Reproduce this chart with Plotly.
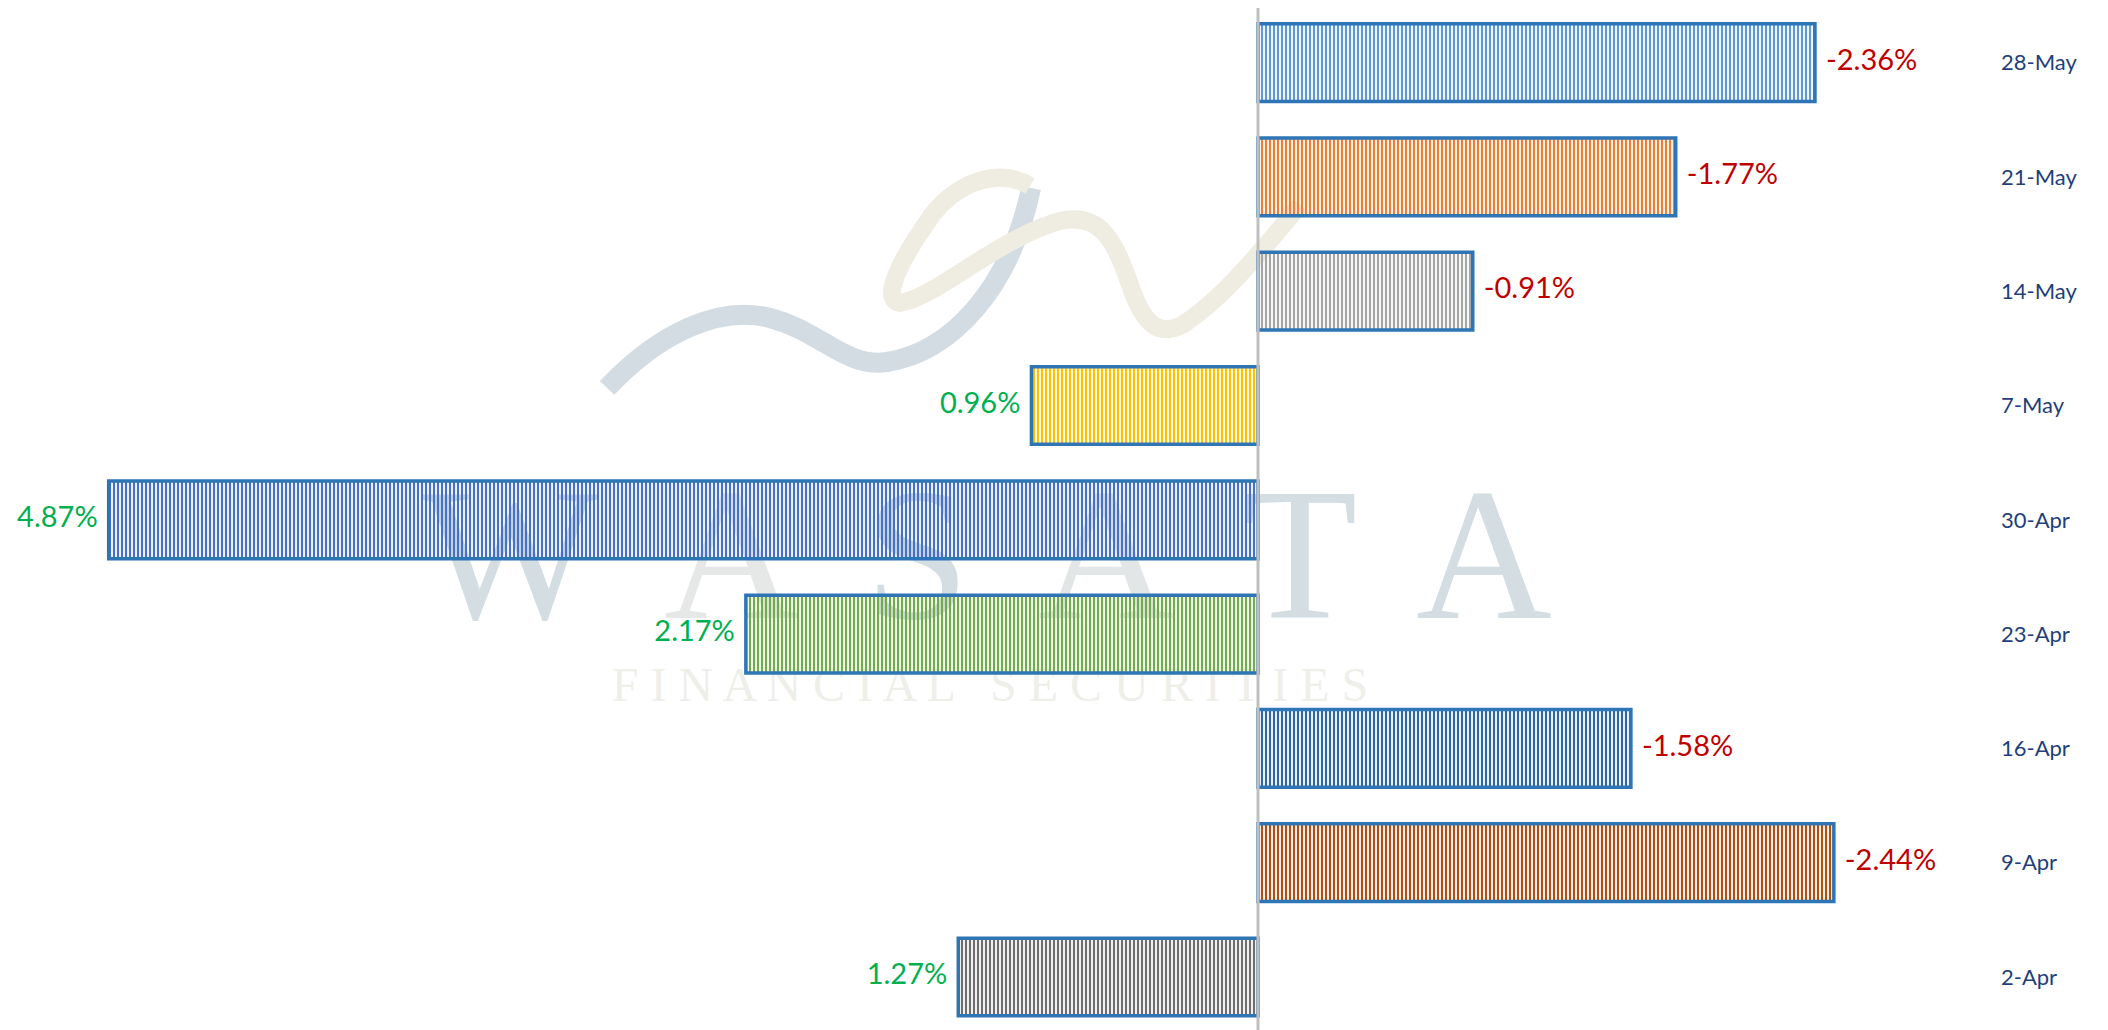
import plotly.graph_objects as go

# ---------------- data ----------------
dates = ["2-Apr", "9-Apr", "16-Apr", "23-Apr", "30-Apr", "7-May", "14-May", "21-May", "28-May"]
changes = [1.27, -2.44, -1.58, 2.17, 4.87, 0.96, -0.91, -1.77, -2.36]

stripe_fg = ["#6E6E6E", "#B0500F", "#2A68A3", "#70AD47", "#4472C4", "#FFC000", "#A5A5A5", "#ED7D31", "#5B9BD5"]
stripe_bg = ["#D0D0D0", "#F2BE98", "#A9C8E6", "#D3E8C4", "#C3D2EE", "#FFEAA6", "#E3E3E3", "#FAD3B8", "#C9DEF2"]

labels = [f"{v:.2f}%" for v in changes]
label_colors = ["#00B050" if v > 0 else "#C00000" for v in changes]
label_pos = ["middle left" if v > 0 else "middle right" for v in changes]

# page offset of the plot div (default body margin)
OFF = 8
W, H = 2100, 1022
ML, MR, MT, MB = 0, 148, 0, 0
PW, PH = W - ML - MR, H - MT - MB
ZERO_PX, PX_PER_UNIT = 1258 - OFF, 236.0


def px(x, y):
    """page pixel -> paper coordinates (for decorative watermark only)"""
    fx, fy = x - OFF, y - OFF
    return (fx - ML) / PW, 1 - (fy - MT) / PH


fig = go.Figure()

fig.add_trace(go.Bar(
    y=dates,
    x=changes,
    orientation="h",
    width=0.68,
    marker=dict(
        color=stripe_fg,
        line=dict(color="#2E75B6", width=3.5),
        pattern=dict(shape="|", fgcolor=stripe_fg, bgcolor=stripe_bg, size=4, solidity=0.55, fillmode="replace"),
    ),
    hoverinfo="skip",
))

fig.add_trace(go.Scatter(
    y=dates,
    x=changes,
    mode="markers+text",
    marker=dict(size=16, opacity=0, color="white"),
    text=labels,
    textposition=label_pos,
    textfont=dict(family="Lato, Carlito, sans-serif", size=29, color=label_colors),
    cliponaxis=False,
    hoverinfo="skip",
))

# ---------------- watermark (decorative) ----------------
shapes = []


def path_from(points):
    p = [px(*pt) for pt in points]
    d = f"M {p[0][0]:.4f},{p[0][1]:.4f}"
    for i in range(1, len(p) - 2, 3):
        d += f" C {p[i][0]:.4f},{p[i][1]:.4f} {p[i+1][0]:.4f},{p[i+1][1]:.4f} {p[i+2][0]:.4f},{p[i+2][1]:.4f}"
    return d


blue_ribbon = [(607, 388), (660, 332), (720, 305), (770, 318),
               (820, 331), (845, 368), (887, 362),
               (950, 352), (1010, 290), (1031, 188)]
beige_ribbon = [(1030, 186), (1000, 168), (960, 180), (932, 215),
                (900, 260), (880, 300), (900, 303),
                (935, 298), (995, 240), (1060, 221),
                (1100, 212), (1115, 240), (1130, 285),
                (1145, 330), (1162, 335), (1182, 325),
                (1222, 300), (1262, 250), (1300, 205)]
shapes.append(dict(type="path", xref="paper", yref="paper", layer="below",
                   path=path_from(blue_ribbon), line=dict(color="#D2DCE2", width=20)))
shapes.append(dict(type="path", xref="paper", yref="paper", layer="below",
                   path=path_from(beige_ribbon), line=dict(color="#EFEDE2", width=18)))

letters = [("W", 510, "#D3DDE2"), ("A", 732, "#E6E8E8"), ("S", 917, "#D3DDE2"),
           ("A", 1106, "#E3E6E7"), ("T", 1300, "#D3DDE2"), ("A", 1484, "#D3DDE2")]
for ch, cx, col in letters:
    x0, y0 = px(cx - 90, 534 - 70)
    x1, y1 = px(cx + 90, 534 + 70)
    shapes.append(dict(type="rect", xref="paper", yref="paper", layer="below",
                       x0=x0, x1=x1, y0=y1, y1=y0, line=dict(width=0), fillcolor="rgba(0,0,0,0)",
                       label=dict(text=ch, font=dict(family="Liberation Serif, serif", size=188, color=col),
                                  textposition="middle center")))
x0, y0 = px(990 - 400, 679 - 20)
x1, y1 = px(990 + 400, 679 + 20)
shapes.append(dict(type="rect", xref="paper", yref="paper", layer="below",
                   x0=x0, x1=x1, y0=y1, y1=y0, line=dict(width=0), fillcolor="rgba(0,0,0,0)",
                   label=dict(text="F I N A N C I A L   S E C U R I T I E S",
                              font=dict(family="Liberation Serif, serif", size=48, color="#EFEFEA"),
                              textposition="middle center")))

# zero line
shapes.append(dict(type="line", xref="x", yref="paper", x0=0, x1=0, y0=0, y1=px(0, 6)[1],
                   line=dict(color="#BFBFBF", width=3), layer="above"))

xmax = (ZERO_PX - ML) / PX_PER_UNIT
xmin = -(ML + PW - ZERO_PX) / PX_PER_UNIT
c0 = 977.0 - OFF
step = 114.3
ytop = (c0 - MT) / step
ybot = -(MT + PH - c0) / step

fig.update_layout(
    width=W, height=H,
    margin=dict(l=ML, r=MR, t=MT, b=MB),
    paper_bgcolor="white", plot_bgcolor="white",
    showlegend=False,
    shapes=shapes,
    xaxis=dict(range=[xmax, xmin], showgrid=False, zeroline=False, showticklabels=False,
               showline=False, ticks=""),
    yaxis=dict(type="category", categoryorder="array", categoryarray=dates,
               range=[ybot, ytop], side="right", showgrid=False, zeroline=False, showline=False,
               ticks="", ticklabelstandoff=40,
               tickfont=dict(family="Lato, Carlito, sans-serif", size=22, color="#1F3F7A")),
)

fig.write_html("out.html")
